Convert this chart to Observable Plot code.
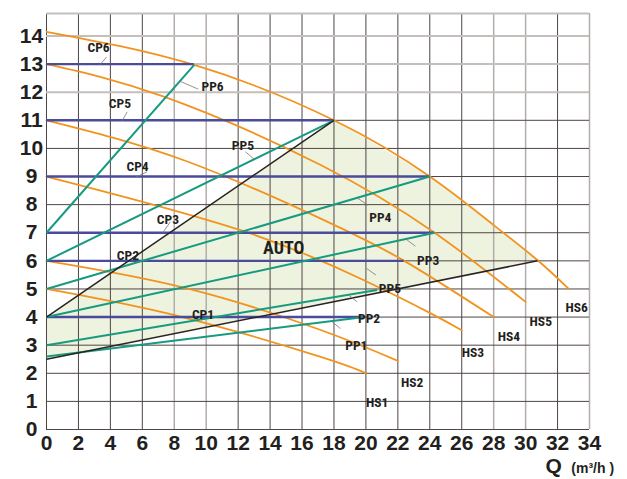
<!DOCTYPE html>
<html><head><meta charset="utf-8">
<script src="https://cdn.jsdelivr.net/npm/d3@7"></script>
<script src="https://cdn.jsdelivr.net/npm/@observablehq/plot@0.6"></script>
<style>
html,body{margin:0;padding:0;background:#fff;}
#chart svg{display:block;}
</style></head>
<body><div id="chart"></div>
<script>
// ---- data ----
const xTicks = [0,2,4,6,8,10,12,14,16,18,20,22,24,26,28,30,32,34];
const yTicks = [0,1,2,3,4,5,6,7,8,9,10,11,12,13,14];
// pump curves (Q, H)
const HS1 = [[0,5],[8.5,4],[17.17,2.58],[20,2]];
const HS2 = [[0,6],[8.8,5.02],[17.17,3.54],[22,2.44]];
const HS3 = [[0,9],[12.16,7.09],[19.88,5.31],[24.06,4.13],[26,3.53]];
const HS4 = [[0,11],[8.6,9.58],[17.17,7.5],[22.4,6],[28,4]];
const HS5 = [[0,13],[7.35,11.84],[17.17,9.41],[24.3,7],[30,4.54]];
const HS6 = [[0,14.15],[9.25,12.97],[18,11],[24,9],[28,7.27],[30.75,6.02],[32.7,5]];
// constant pressure lines: level, end Q
const cpNames = ["CP1","CP2","CP3","CP4","CP5","CP6"];
const cpLevel = [4,6,7,9,11,13];
const cpEnd   = [19.9,22.4,24.3,24,18,9.25];
// proportional pressure lines: start H at Q=0, end point
const ppStartH = [7,6,5,4,3,2.6];
const ppEndQ   = [9.25,18,24,24.3,20.7,19.9];
const ppEndH   = [12.97,11,9,7,4.96,4];
// AUTO boundary lines
const autoUpper = [[0,4],[18,11]];
const autoLower = [[0,2.5],[30.75,6]];
// labels
const labelText = ["CP6","CP5","CP4","CP3","CP2","CP1","PP6","PP5","PP4","PP3","PP5","PP2","PP1","HS1","HS2","HS3","HS4","HS5","HS6"];
const labelX    = [3.26,4.6,5.7,7.6,5.1,9.8,10.4,12.3,20.9,23.9,21.5,20.2,19.4,20.7,22.9,26.7,28.95,30.95,33.2];
const labelY    = [13.6,11.58,9.36,7.45,6.2,4.1,12.2,10.1,7.55,6.0,5.0,3.96,3.0,0.97,1.68,2.75,3.29,3.85,4.35];
// leader strokes x1,y1,x2,y2
const leaders = [
  [3.76,13.25,3.32,12.96],[5.05,11.3,4.74,10.98],[6.3,9.17,5.57,8.97],[7.76,7.39,7.28,7.0],
  [8.35,12.39,9.5,12.11],[12.46,9.88,13.02,9.61],[19.46,8.24,20.12,7.98],[22.54,6.76,23.1,6.52],
  [20.04,5.73,20.64,5.49],[18.93,4.78,19.45,4.54],[17.89,3.83,18.41,3.59]
];
const lightX = [8,10,28,30,34];
const lightY = [12,13,14];

// ---- build tables ----
const hsRows = [];
[HS1,HS2,HS3,HS4,HS5,HS6].forEach((c,i)=>c.forEach(([x,y])=>hsRows.push({name:"HS"+(i+1),x,y})));
const cpRows = cpLevel.map((h,i)=>({name:cpNames[i],h,end:cpEnd[i]}));
const ppRows = ppStartH.map((h,i)=>({x1:0,y1:h,x2:ppEndQ[i],y2:ppEndH[i]}));
const blackRows = [autoUpper,autoLower].map(([a,b])=>({x1:a[0],y1:a[1],x2:b[0],y2:b[1]}));
const lowerAt = x => autoLower[0][1] + (autoLower[1][1]-autoLower[0][1])*(x-autoLower[0][0])/(autoLower[1][0]-autoLower[0][0]);
const areaRows = [
  {x:autoUpper[0][0], y1:lowerAt(autoUpper[0][0]), y2:autoUpper[0][1]},
  ...HS6.filter(p=>p[0]>=autoUpper[1][0] && p[0]<=autoLower[1][0]).map(([x,y])=>({x,y1:lowerAt(x),y2:y}))
];
const labels = labelText.map((t,i)=>({t,x:labelX[i],y:labelY[i]}));
const leaderRows = leaders.map(([x1,y1,x2,y2])=>({x1,y1,x2,y2}));

const ORANGE="#f2931f", BLUE="#4b4b9c", GREEN="#169a80", BLACK="#2b2222", INK="#231f20";
const narrow = "'Liberation Sans Narrow','Roboto Condensed','Liberation Sans',Arial,sans-serif";

const chart = Plot.plot({
  width:627, height:479,
  marginLeft:46, marginRight:38, marginTop:13, marginBottom:50,
  x:{domain:[0,34]}, y:{domain:[0,14.8]},
  style:{fontFamily:"'Liberation Sans',Arial,sans-serif", color:INK, background:"#fff"},
  marks:[
    Plot.areaY(areaRows,{x:"x",y1:"y1",y2:"y2",fill:"#eef3df"}),
    Plot.ruleX(xTicks.filter(v=>!lightX.includes(v)),{stroke:"#4e4646",strokeWidth:1}),
    Plot.ruleX(lightX,{stroke:"#b3adaa",strokeWidth:1.5}),
    Plot.ruleY(yTicks.filter(v=>!lightY.includes(v)),{stroke:"#4e4646",strokeWidth:1}),
    Plot.ruleY(lightY,{stroke:"#c4bfbc",strokeWidth:2}),
    Plot.ruleY([14.8],{stroke:"#c4bfbc",strokeWidth:2}),
    Plot.line(hsRows,{x:"x",y:"y",z:"name",stroke:ORANGE,strokeWidth:1.8,curve:"natural"}),
    Plot.ruleY(cpRows,{y:"h",x1:0,x2:"end",stroke:BLUE,strokeWidth:2.4}),
    Plot.link(ppRows,{x1:"x1",y1:"y1",x2:"x2",y2:"y2",stroke:GREEN,strokeWidth:2}),
    Plot.link(blackRows,{x1:"x1",y1:"y1",x2:"x2",y2:"y2",stroke:BLACK,strokeWidth:1.5}),
    Plot.link(leaderRows,{x1:"x1",y1:"y1",x2:"x2",y2:"y2",stroke:"#777",strokeWidth:0.8}),
    Plot.text(labels,{x:"x",y:"y",text:"t",fontFamily:narrow,fontWeight:"bold",fontSize:13.5,fill:INK}),
    Plot.text(["AUTO"],{x:14.85,y:6.45,fontFamily:narrow,fontWeight:"bold",fontSize:18,fill:INK}),
    Plot.axisX(xTicks,{tickSize:0,tickPadding:6,fontSize:21,fontWeight:"bold",fill:INK,label:null}),
    Plot.axisY(yTicks,{tickSize:0,tickPadding:0,textAnchor:"middle",dx:-15,fontSize:21,fontWeight:"bold",fill:INK,label:null}),
    Plot.text(["Q"],{x:31.75,y:-1.3,fontSize:21,fontWeight:"bold",fill:INK}),
    Plot.text(["(m³/h )"],{x:34.2,y:-1.4,fontSize:14,fontWeight:"bold",fill:INK})
  ]
});
document.getElementById("chart").appendChild(chart);
</script></body></html>
